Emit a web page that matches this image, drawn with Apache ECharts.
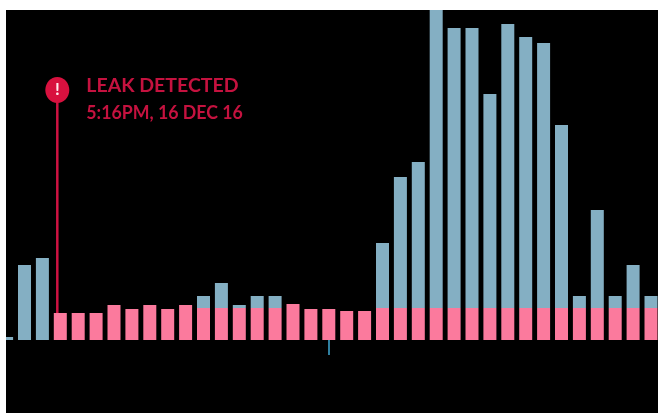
<!DOCTYPE html>
<html>
<head>
<meta charset="utf-8">
<title>Leak detected</title>
<script src="https://cdn.jsdelivr.net/npm/echarts@6/dist/echarts.min.js"></script>
<style>
  html, body { margin: 0; padding: 0; background: #ffffff; width: 658px; height: 413px; overflow: hidden; }
  #chart { position: absolute; left: 6px; top: 10px; width: 652px; height: 403px; background: #000000; }
</style>
</head>
<body>
<div id="chart"></div>
<script>
// One slot per reading; the first slot is only partly inside the plot.
const categories = Array.from({ length: 37 }, (_, i) => 'T' + i);

// Baseline usage (pink) and the flow on top of it (blue).
const baseFlow = [0, 0, 0, 27, 27, 27, 35, 31, 35, 31, 35, 32, 32, 32, 32, 32, 36, 31, 31, 29, 29, 32, 32, 32, 32, 32, 32, 32, 32, 32, 32, 32, 32, 32, 32, 32, 32];
const extraFlow = [3, 75, 82, 0, 0, 0, 0, 0, 0, 0, 0, 12, 25, 3, 12, 12, 0, 0, 0, 0, 0, 65, 131, 146, 298, 280, 280, 214, 284, 271, 265, 183, 12, 98, 12, 43, 12];

const leakSlot = 3;
const leakPinLevel = 250;
const leakLabel = ['LEAK DETECTED', '5:16PM, 16 DEC 16'];
const markedSlot = 18;

const RED = '#c5123f';
const chart = echarts.init(document.getElementById('chart'), null, { width: 652, height: 403 });

// Caption line, condensed horizontally to suit the narrow display face.
const captionLine = (text, x, y, squeeze) => ({
  type: 'text',
  x: x,
  y: y,
  scaleX: squeeze,
  style: { x: 0, y: 0, text: text, fill: RED, font: 'bold 19.5px Lato', align: 'left', verticalAlign: 'middle' }
});

chart.setOption({
  animation: false,
  backgroundColor: '#000000',
  // The band of the first slot starts left of the canvas, so bounds stay unconstrained.
  grid: { left: -8.35, top: 0, width: 662.3, height: 330, containLabel: false, outerBoundsMode: 'none' },
  xAxis: {
    type: 'category',
    data: categories,
    axisLine: { show: false },
    axisLabel: { show: false },
    axisTick: {
      show: true,
      alignWithLabel: true,
      length: 15,
      interval: (i) => i === markedSlot,
      lineStyle: { color: '#2f7f9f', width: 2 }
    }
  },
  yAxis: { type: 'value', min: 0, max: 330, show: false, splitLine: { show: false } },
  series: [
    {
      type: 'bar', stack: 'flow', data: baseFlow, barWidth: 13,
      itemStyle: { color: '#fb7a9d' }
    },
    {
      type: 'bar', stack: 'flow', data: extraFlow, barWidth: 13,
      itemStyle: { color: '#84afc3' }
    },
    {
      // Leak marker: stem, round pin and its two-line caption.
      type: 'custom',
      data: [[leakSlot, baseFlow[leakSlot], leakPinLevel]],
      encode: { x: 0, y: 2 },
      z: 5,
      clip: false,
      renderItem: (params, api) => {
        const foot = api.coord([api.value(0), api.value(1)]);
        const head = api.coord([api.value(0), api.value(2)]);
        const x = head[0] - 3;
        const y = head[1];
        return {
          type: 'group',
          children: [
            { type: 'line', shape: { x1: x, y1: y, x2: x, y2: foot[1] }, style: { stroke: '#cf1242', lineWidth: 2.5 } },
            { type: 'ellipse', shape: { cx: x, cy: y, rx: 12, ry: 13 }, style: { fill: '#d8113f' } },
            { type: 'text', style: { x: x, y: y, text: '!', fill: '#ffe9ee', font: 'bold 17px Lato', align: 'center', verticalAlign: 'middle' } },
            captionLine(leakLabel[0], x + 29, y - 4, 1),
            captionLine(leakLabel[1], x + 29, y + 23, 0.91)
          ]
        };
      }
    }
  ]
});
</script>
</body>
</html>
